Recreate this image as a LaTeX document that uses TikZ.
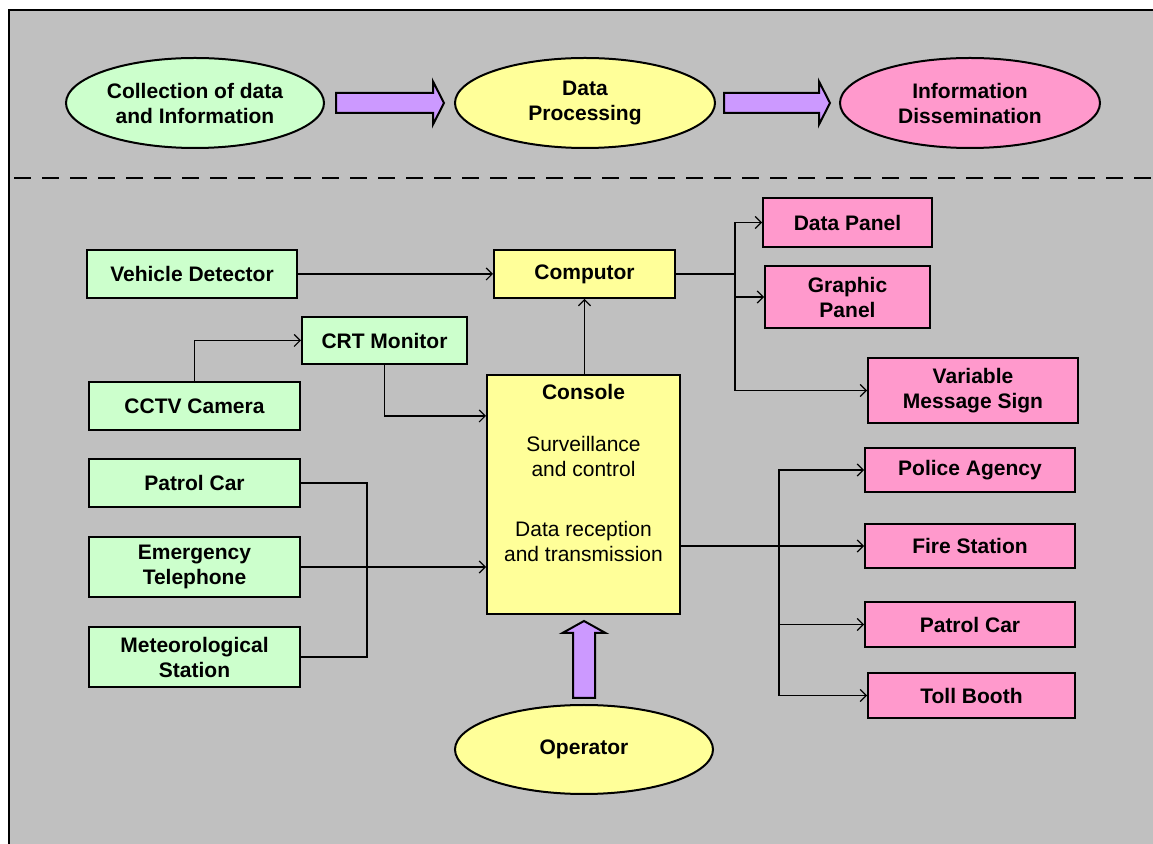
\documentclass[tikz,border=0pt]{standalone}
\usepackage{fontspec}
\setmainfont{Liberation Sans}
\usetikzlibrary{arrows.meta,calc,shapes.geometric}

\definecolor{panelgray}{HTML}{C0C0C0}
\definecolor{srcgreen}{HTML}{CCFFCC}
\definecolor{procyellow}{HTML}{FFFF99}
\definecolor{outpink}{HTML}{FF99CC}
\definecolor{flowpurple}{HTML}{CC99FF}

% horizontal block arrow: #1 tail point, #2 tip point (same height)
\newcommand{\hblockarrow}[2]{%
  \draw[blockarrow] ($(#1)+(0,-10)$) -- ($(#2)+(-11,-10)$) -- ($(#2)+(-11,-21.5)$)
    -- (#2) -- ($(#2)+(-11,21.5)$) -- ($(#2)+(-11,10)$) -- ($(#1)+(0,10)$) -- cycle;}
% upward block arrow: #1 tail point (bottom), #2 tip point (top)
\newcommand{\vblockarrow}[2]{%
  \draw[blockarrow] ($(#1)+(-11,0)$) -- ($(#2)+(-11,12)$) -- ($(#2)+(-21.5,12)$)
    -- (#2) -- ($(#2)+(21.5,12)$) -- ($(#2)+(11,12)$) -- ($(#1)+(11,0)$) -- cycle;}

\begin{document}
\begin{tikzpicture}[x=0.5pt,y=-0.5pt,
  txt/.style={font=\fontsize{10.5}{12.5}\selectfont\bfseries, align=center, text=black},
  boxbase/.style={txt, draw=black, line width=1pt, rectangle, inner sep=0pt},
  srcbox/.style={boxbase, fill=srcgreen},
  procbox/.style={boxbase, fill=procyellow},
  outbox/.style={boxbase, fill=outpink},
  stage/.style={txt, draw=black, line width=1pt, ellipse, inner sep=0pt},
  conn/.style={draw=black, line width=0.6pt, -{Straight Barb[length=3pt,width=6pt]}},
  wire/.style={draw=black, line width=0.6pt},
  blockarrow/.style={draw=black, line width=1pt, fill=flowpurple, line join=miter},
]
\useasboundingbox (0,0) rectangle (1153,844);
\clip (0,0) rectangle (1153,844);
\fill[white] (0,0) rectangle (1153,844);

% panel and separator
\draw[line width=1pt, fill=panelgray] (9,10) rectangle (1175,870);
\draw[line width=1pt, dash pattern=on 8.5pt off 5.5pt] (14,178) -- (1153,178);

% process stages
\node[stage, fill=srcgreen, minimum width=129pt, minimum height=45pt] (e1) at (195,103) {Collection of data\\and Information};
\node[stage, fill=procyellow, minimum width=130pt, minimum height=45pt] (e2) at (585,103) {Data\\Processing};
\node[stage, fill=outpink, minimum width=130pt, minimum height=45pt] (e3) at (970,103) {Information\\Dissemination};

\coordinate (a1s) at ($(e1.east)+(11,0)$);
\coordinate (a1e) at ($(e2.west)+(-10,0)$);
\coordinate (a2s) at ($(e2.east)+(8,0)$);
\coordinate (a2e) at ($(e3.west)+(-9,0)$);
\hblockarrow{a1s}{a1e}
\hblockarrow{a2s}{a2e}

% sources
\node[srcbox, minimum width=105pt, minimum height=24pt] (vd) at (192,274) {Vehicle Detector};
\node[srcbox, minimum width=82.5pt, minimum height=23.5pt] (crt) at (384.5,340.5) {CRT Monitor};
\node[srcbox, minimum width=105.5pt, minimum height=24pt] (cctv) at (194.5,406) {CCTV Camera};
\node[srcbox, minimum width=105.5pt, minimum height=24pt] (pcl) at (194.5,483) {Patrol Car};
\node[srcbox, minimum width=105.5pt, minimum height=30pt] (et) at (194.5,567) {Emergency\\Telephone};
\node[srcbox, minimum width=105.5pt, minimum height=30pt] (ms) at (194.5,657) {Meteorological\\Station};

% processing
\node[procbox, minimum width=90.5pt, minimum height=24pt] (comp) at (584.5,274) {Computor};
\node[procbox, minimum width=96.5pt, minimum height=119.5pt] (cons) at (583.5,494.5) {};
\node[txt, anchor=north, inner sep=0pt] (constext) at ($(cons.north)+(0,10)$)
  {Console\\[13.5pt]\mdseries Surveillance\\\mdseries and control\\[17.5pt]\mdseries Data reception\\\mdseries and transmission};
\node[stage, fill=procyellow, minimum width=129pt, minimum height=44.5pt] (op) at (584,749.5) {Operator};

% outputs
\node[outbox, minimum width=84.5pt, minimum height=24.5pt] (dp) at (847.5,222.5) {Data Panel};
\node[outbox, minimum width=82.5pt, minimum height=31pt] (gp) at (847.5,297) {Graphic\\Panel};
\node[outbox, minimum width=105pt, minimum height=32.5pt] (vms) at (973,390.5) {Variable\\Message Sign};
\node[outbox, minimum width=105pt, minimum height=22pt] (pa) at (970,470) {Police Agency};
\node[outbox, minimum width=105pt, minimum height=22pt] (fs) at (970,546) {Fire Station};
\node[outbox, minimum width=105pt, minimum height=22.5pt] (pcr) at (970,624.5) {Patrol Car};
\node[outbox, minimum width=103.5pt, minimum height=22.5pt] (tb) at (971.5,695.5) {Toll Booth};

% connectors into the processing units
\draw[conn] (vd.east) -- (comp.west);
\draw[conn] (cctv.north) |- (crt.west);
\coordinate (consin) at ($(cons.north west)+(0,42)$);
\draw[conn] (crt.south) |- (consin);
\draw[wire] (pcl.east) -- ++(66,0) |- (ms.east);
\draw[conn] (et.east) -- (et.east -| cons.west);
\draw[conn] (cons.north -| comp.south) -- (comp.south);

% computer outputs
\coordinate (bx) at ($(comp.east)+(59,0)$);
\draw[wire] (comp.east) -- (bx);
\draw[conn] (bx) |- (dp.west);
\draw[conn] (bx) |- (gp.west);
\draw[conn] (bx) |- (vms.west);

% console outputs
\coordinate (consout) at (cons.east |- fs.west);
\coordinate (by) at ($(consout)+(98,0)$);
\draw[conn] (consout) -- (fs.west);
\draw[conn] (by) |- (pa.west);
\draw[conn] (by) |- (pcr.west);
\draw[conn] (by) |- (tb.west);

% operator input
\coordinate (opt) at ($(op.north)+(0,-6)$);
\coordinate (oph) at ($(cons.south)+(0,6)$);
\vblockarrow{opt}{opt |- oph}
\end{tikzpicture}
\end{document}
